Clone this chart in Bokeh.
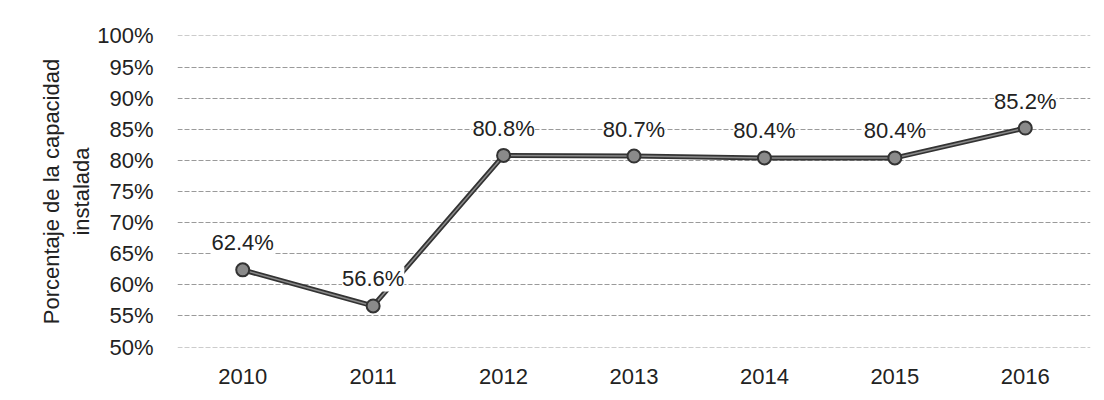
from bokeh.plotting import figure
from bokeh.models import ColumnDataSource, FactorRange, Range1d, LabelSet, FixedTicker, PrintfTickFormatter
from bokeh.core.properties import value
from bokeh.embed import file_html
from bokeh.resources import INLINE

years = ["2010", "2011", "2012", "2013", "2014", "2015", "2016"]
values = [62.4, 56.6, 80.8, 80.7, 80.4, 80.4, 85.2]
labels = ["62.4%", "56.6%", "80.8%", "80.7%", "80.4%", "80.4%", "85.2%"]
y_ticks = [50, 55, 60, 65, 70, 75, 80, 85, 90, 95, 100]

FONT = "Liberation Sans"

src = ColumnDataSource(dict(x=years, y=values, t=labels))

p = figure(width=1096, height=392, x_range=FactorRange(*years), y_range=Range1d(49.92, 100.08),
           output_backend="svg", toolbar_location=None,
           min_border_left=177, min_border_right=6, min_border_top=35, min_border_bottom=45)
p.outline_line_color = None
p.background_fill_color = "white"
p.border_fill_color = "white"

p.xgrid.grid_line_color = None
p.ygrid.grid_line_color = "#9a9a9a"
p.ygrid.grid_line_dash = "5 2"
p.ygrid.grid_line_width = 1

p.yaxis.ticker = FixedTicker(ticks=y_ticks)
p.yaxis.formatter = PrintfTickFormatter(format="%d%%")
for ax in (p.xaxis, p.yaxis):
    ax.axis_line_color = None
    ax.major_tick_line_color = None
    ax.minor_tick_line_color = None
    ax.major_label_text_font = FONT
    ax.major_label_text_font_size = "22px"
    ax.major_label_text_color = "#222222"
p.yaxis.major_label_standoff = 18
p.xaxis.major_label_standoff = 15
p.yaxis.axis_label = "Porcentaje de la capacidad\ninstalada"
p.yaxis.axis_label_text_font = FONT
p.yaxis.axis_label_text_font_size = "22px"
p.yaxis.axis_label_text_font_style = "normal"
p.yaxis.axis_label_text_color = "#222222"
p.yaxis.axis_label_standoff = 0

p.line("x", "y", source=src, line_color="#333333", line_width=5)
p.line("x", "y", source=src, line_color="#8a8a8a", line_width=1.5)
p.scatter("x", "y", source=src, size=13, fill_color="#8a8a8a", line_color="#333333", line_width=2)

lbl = LabelSet(x="x", y="y", text="t", source=src, y_offset=27, text_align="center",
               text_baseline="middle", text_font=value(FONT), text_font_size=value("22px"),
               text_color="#222222", background_fill_color="white")
p.add_layout(lbl)

open("out.html", "w").write(file_html(p, INLINE))
